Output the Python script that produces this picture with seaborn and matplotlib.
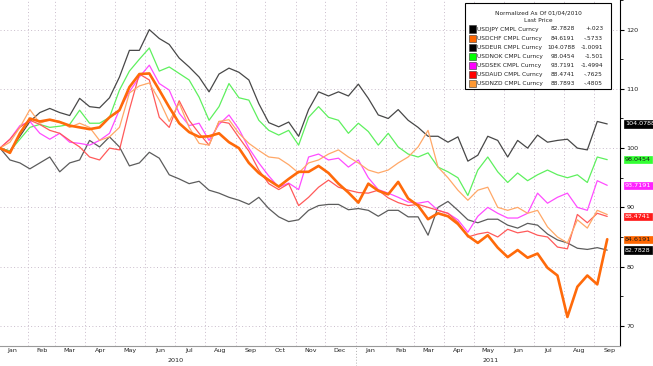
import matplotlib
matplotlib.use("Agg")
import matplotlib.pyplot as plt
import matplotlib.dates as mdates
import matplotlib.transforms as mtrans
from matplotlib.patches import Rectangle
from matplotlib import font_manager
from matplotlib.ticker import MultipleLocator, NullFormatter
import seaborn as sns
import pandas as pd

# ── data (normalized to 100 on 01/04/2010) ────────────────────────────────
dates = pd.date_range("2010-01-04", "2011-09-14", periods=62)

usdjpy = [100, 98, 97.5, 96.5, 97.5, 98.5, 96, 97.5, 98, 101.3,
          100.2, 101.9, 100.2, 97, 97.5, 99.3, 98.3, 95.5, 94.8, 94,
          94.4, 92.9, 92.4, 91.7, 91.2, 90.5, 91.7, 89.8, 88.4, 87.6,
          87.9, 89.5, 90.3, 90.5, 90.5, 89.6, 89.8, 89.5, 88.5, 89.5,
          89.5, 88.4, 88.4, 85.3, 90, 91, 89.5, 87.9, 87.4, 88,
          88, 87, 86.5, 87.3, 87, 85.5, 84.5, 84, 83.1, 82.9,
          83.2, 82.78]
usdchf = [100, 99.2, 102.5, 105, 104.5, 104.8, 104.4, 103.8, 103.5, 103.2,
          103.5, 105.2, 106.4, 110.3, 112.5, 112.6, 109.8, 106.9, 104.2, 102.7,
          101.9, 102, 102.5, 101, 100, 97.5, 95.8, 94.6, 93.5, 94.8,
          96, 96, 97, 95.8, 94, 92.5, 90.8, 94, 92.8, 92.2,
          94.3, 91.5, 90.3, 88, 89, 88.5, 87.2, 85.2, 84, 85.3,
          83.2, 81.6, 82.8, 81.5, 82.2, 79.8, 78.5, 71.5, 76.6, 78.5,
          77, 84.62]
usdeur = [100, 99.5, 102, 104.5, 106, 106.7, 106, 105.5, 108.4, 107,
          106.8, 108.5, 112, 116.5, 116.5, 120, 118.5, 117.5, 115.2, 113.7,
          112, 109.5, 112.5, 113.5, 112.8, 111.5, 107.5, 104.3, 103.6, 104.4,
          102, 106.5, 109.5, 108.8, 109.5, 108.8, 110.8, 108.4, 105.6, 105,
          106.5, 104.7, 103.5, 102, 102, 101, 101.9, 97.8, 98.8, 102,
          101.3, 98.5, 101.3, 100, 102.2, 101, 101.3, 101.5, 100, 99.7,
          104.5, 104.08]
usdnok = [100, 99.5, 101.5, 103.5, 104, 103.5, 103.7, 104, 106.4, 104.2,
          104.2, 105.2, 109.8, 113, 115, 116.9, 113, 113.7, 112.6, 111.5,
          108.6, 104.7, 107, 110.9, 108.5, 108.1, 104.7, 103, 102.2, 103,
          100.5, 105.2, 107, 105.2, 104.7, 102.5, 104.2, 102.8, 100.5, 102.5,
          100.2, 99, 98.5, 99.2, 96.8, 96, 95, 92, 96.3, 98.5,
          96, 94.2, 95.8, 94.5, 95.5, 96.3, 95.5, 95, 95.5, 94.2,
          98.5, 98.05]
usdsek = [100, 101.5, 103.8, 104.5, 102.5, 101.5, 102.5, 101, 100.8, 100.5,
          101.3, 102.5, 106.5, 109.5, 112, 114, 110.9, 109.8, 105.9, 103.8,
          104.2, 101.3, 104, 105.6, 103.2, 100, 97.5, 95.3, 93.4, 94.1,
          93, 98.5, 99, 98, 98.3, 96.8, 98, 95, 93, 92.4,
          91.7, 90.9, 90.7, 91, 89.5, 89, 87.9, 85.8, 88.5, 90,
          89, 88.2, 88.2, 89, 92.4, 90.7, 91.7, 92.4, 90, 89.5,
          94.5, 93.72]
usdaud = [100, 101.5, 103.5, 104.7, 104, 103, 102.5, 101.3, 100.2, 98.5,
          98, 100, 99.7, 106.5, 112.5, 111.5, 105.2, 103.5, 108, 104.7,
          102.5, 100.5, 104.5, 104.2, 101.8, 99.5, 96.3, 94, 93, 94,
          90.3, 91.7, 93.4, 94.6, 93.4, 92.9, 92.5, 92.4, 92.9, 91.6,
          90.8, 90.3, 90.5, 90, 89.5, 89, 87.5, 85, 85.5, 85.8,
          85, 86.3, 85.7, 86, 85.3, 85, 83.3, 83, 88.8, 87.4,
          89, 88.47]
usdnzd = [100, 101, 103.5, 106.5, 104.2, 104.8, 104.5, 103.5, 104.2, 103.5,
          101.3, 101.9, 103.5, 109.3, 110.5, 111, 108.1, 104.5, 107.6, 103.5,
          100.8, 100.5, 104.5, 104.8, 102.5, 100.8, 99.6, 98.5, 98.3, 97.2,
          95.8, 97.5, 98, 99, 99.7, 98.5, 97.5, 96.3, 95.8, 96.3,
          97.5, 98.5, 100.2, 103, 96.8, 95, 92.9, 91.2, 92.9, 93.4,
          90, 89.5, 90, 89, 89.5, 86.7, 85, 84, 87.9, 86.5,
          89.5, 88.79]

tickers = ["USDJPY", "USDCHF", "USDEUR", "USDNOK", "USDSEK", "USDAUD", "USDNZD"]
last_price = ["82.7828", "84.6191", "104.0788", "98.0454", "93.7191", "88.4741", "88.7893"]
net_change = ["+.023", "-.5733", "-1.0091", "-1.501", "-1.4994", "-.7625", "-.4805"]

# ── style ────────────────────────────────────────────────────────────────
sns.set_theme(style="white")
avail = {f.name for f in font_manager.fontManager.ttflist}
if "Liberation Sans Narrow" in avail:
    FONT, FS, LFS = "Liberation Sans Narrow", 5.6, 5.2
else:
    FONT, FS, LFS = "DejaVu Sans", 4.6, 4.2
plt.rcParams["font.family"] = [FONT, "DejaVu Sans"]

W, H = 653, 366
fig = plt.figure(figsize=(W / 100, H / 100), dpi=100)
ax = fig.add_axes([0, 1 - 346 / H, 620 / W, 346 / H])

def fx(px):
    return px / W

def fy(py):
    return 1 - py / H

line_styles = {
    "USDJPY": ("#5c5c5c", 0.9, 2),
    "USDEUR": ("#484848", 0.9, 2),
    "USDNOK": ("#5ef05e", 0.9, 3),
    "USDSEK": ("#ff4cff", 0.9, 3),
    "USDAUD": ("#ff5a5a", 0.9, 4),
    "USDNZD": ("#ffa868", 0.9, 4),
    "USDCHF": ("#ff6a0a", 1.9, 5),
}
series = {"USDJPY": usdjpy, "USDCHF": usdchf, "USDEUR": usdeur, "USDNOK": usdnok,
          "USDSEK": usdsek, "USDAUD": usdaud, "USDNZD": usdnzd}

for name, vals in series.items():
    color, lw, z = line_styles[name]
    sns.lineplot(x=dates, y=vals, ax=ax, color=color, linewidth=lw, zorder=z)

ax.set_xlim(pd.Timestamp("2010-01-04"), pd.Timestamp("2011-09-27"))
ax.set_ylim(66.6, 125.0)

# axes decoration, Bloomberg-like
for s in ["left", "top"]:
    ax.spines[s].set_visible(False)
ax.spines["right"].set_color("black")
ax.spines["right"].set_linewidth(0.8)
ax.spines["bottom"].set_color("#9a9a9a")
ax.spines["bottom"].set_linestyle((0, (2, 1)))
ax.spines["bottom"].set_linewidth(0.8)

ax.yaxis.tick_right()
ax.yaxis.set_major_locator(MultipleLocator(10))
ax.yaxis.set_minor_locator(MultipleLocator(5))
ax.tick_params(axis="y", which="major", direction="out", length=3, width=0.8,
               color="black", pad=1.5, labelsize=FS, labelcolor="#222222")
ax.tick_params(axis="y", which="minor", direction="out", length=2, width=0.6,
               color="black")

ax.xaxis.set_major_locator(mdates.MonthLocator())
ax.xaxis.set_major_formatter(NullFormatter())
ax.xaxis.set_minor_locator(mdates.MonthLocator(bymonthday=16))
ax.xaxis.set_minor_formatter(mdates.DateFormatter("%b"))
ax.tick_params(axis="x", which="major", direction="out", length=2, width=0.6,
               color="#777777")
ax.tick_params(axis="x", which="minor", length=0, pad=1.5, labelsize=FS,
               labelcolor="#222222")
ax.set_xlabel("")
ax.set_ylabel("")

ax.grid(True, which="major", axis="both", color="#c9bccb", linestyle=(0, (1, 2.5)),
        linewidth=0.7)

# year labels
xt = ax.get_xaxis_transform()
for d, lbl in [("2010-07-02", "2010"), ("2011-05-18", "2011")]:
    ax.text(pd.Timestamp(d), -15 / 346, lbl, transform=xt, ha="center", va="center",
            fontsize=FS, color="#222222")
ax.axvline(pd.Timestamp("2011-01-01"), ymin=-0.058, ymax=0, color="#b0b0b0",
           linestyle=(0, (1, 2)), linewidth=0.7, clip_on=False)

# ── legend box ───────────────────────────────────────────────────────────
box_l, box_r, box_t, box_b = 465, 611, 3, 89
fig.add_artist(Rectangle((fx(box_l), fy(box_b)), fx(box_r - box_l), (box_b - box_t) / H,
                         transform=fig.transFigure, facecolor="white",
                         edgecolor="black", linewidth=0.8, zorder=10))
cx = (box_l + box_r) / 2
fig.text(fx(cx), fy(13), "Normalized As Of 01/04/2010", ha="center", va="center",
         fontsize=LFS, zorder=11, color="#222222")
fig.text(fx(cx), fy(21), "Last Price", ha="center", va="center", fontsize=LFS,
         zorder=11, color="#222222")
square_colors = ["#000000", "#ff6600", "#000000", "#00ff00", "#ff00ff", "#ff0000", "#ff9933"]
for k, (tk, lp, ch, sc) in enumerate(zip(tickers, last_price, net_change, square_colors)):
    yy = 29 + 9.1 * k
    fig.add_artist(Rectangle((fx(469), fy(yy + 3.5)), fx(7), 7 / H,
                             transform=fig.transFigure, facecolor=sc,
                             edgecolor="#333333", linewidth=0.4, zorder=11))
    fig.text(fx(477), fy(yy), f"{tk} CMPL Curncy", ha="left", va="center",
             fontsize=LFS, zorder=11, color="#222222")
    fig.text(fx(575), fy(yy), lp, ha="right", va="center", fontsize=LFS, zorder=11,
             color="#222222")
    fig.text(fx(603), fy(yy), ch, ha="right", va="center", fontsize=LFS, zorder=11,
             color="#222222")

# ── last-value tags on the right axis (NZD tag sits hidden under AUD) ────
tag_vals = [104.0788, 98.0454, 93.7191, 88.4741, 84.6191, 82.7828]
tag_text = ["104.0788", "98.0454", "93.7191", "88.4741", "84.6191", "82.7828"]
tag_bg = ["#000000", "#33ff33", "#ff22ff", "#ff1a1a", "#ff6600", "#000000"]
tag_fg = ["#ffffff", "#1a1a1a", "#ffffff", "#ffffff", "#1a1a1a", "#ffffff"]
tt = mtrans.blended_transform_factory(ax.transAxes, ax.transData)
for v, t, bg, fg in zip(tag_vals, tag_text, tag_bg, tag_fg):
    ax.text(1 + 5 / 620, v, t, transform=tt, ha="left", va="center", fontsize=FS,
            color=fg, clip_on=False, zorder=12,
            bbox=dict(boxstyle="square,pad=0.18", facecolor=bg, edgecolor=bg,
                      linewidth=0.5))

fig.savefig("out.png", dpi=100)
